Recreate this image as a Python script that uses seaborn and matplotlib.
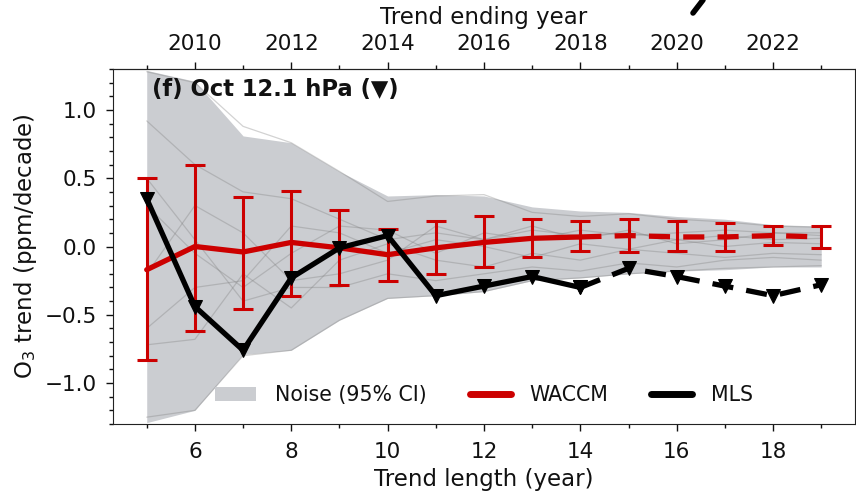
import numpy as np
import matplotlib
matplotlib.use("Agg")
import matplotlib.pyplot as plt
import seaborn as sns
from matplotlib.patches import Patch
from matplotlib.lines import Line2D
from matplotlib.ticker import MultipleLocator, FixedLocator

# data
trend_length = [5, 6, 7, 8, 9, 10, 11, 12, 13, 14, 15, 16, 17, 18, 19]

mls = [0.35, -0.44, -0.76, -0.23, -0.01, 0.08, -0.36, -0.29, -0.22, -0.30,
       -0.16, -0.22, -0.29, -0.36, -0.28]

waccm = [-0.17, 0.00, -0.04, 0.03, -0.01, -0.06, -0.01, 0.03, 0.06, 0.07,
         0.08, 0.07, 0.07, 0.08, 0.07]
waccm_hi = [0.50, 0.60, 0.365, 0.41, 0.27, 0.13, 0.19, 0.22, 0.20, 0.19,
            0.20, 0.19, 0.17, 0.15, 0.15]
waccm_lo = [-0.83, -0.62, -0.455, -0.365, -0.28, -0.255, -0.20, -0.15, -0.08, -0.03,
            -0.04, -0.03, -0.03, 0.01, -0.01]

noise_hi = [1.29, 1.21, 0.81, 0.76, 0.55, 0.37, 0.38, 0.37, 0.29, 0.26,
            0.25, 0.22, 0.20, 0.16, 0.15]
noise_lo = [-1.29, -1.20, -0.79, -0.76, -0.54, -0.38, -0.36, -0.33, -0.25, -0.23,
            -0.20, -0.18, -0.17, -0.15, -0.15]

# some individual noise realisations (thin grey lines)
real_1 = [0.92, 0.60, 0.40, 0.35, 0.20, 0.05, 0.10, 0.05, 0.12, 0.08, 0.10, 0.05, 0.08, 0.05, 0.06]
real_2 = [1.28, 1.20, 0.88, 0.76, 0.55, 0.33, 0.37, 0.38, 0.25, 0.22, 0.24, 0.20, 0.18, 0.15, 0.14]
real_3 = [-0.60, -0.30, -0.25, 0.15, 0.10, -0.05, 0.05, 0.00, -0.08, 0.02, -0.02, 0.05, 0.00, 0.03, 0.02]
real_4 = [-0.72, -0.68, -0.20, -0.45, -0.10, 0.02, -0.10, -0.15, -0.05, -0.10, -0.02, -0.05, -0.08, -0.05, -0.06]
real_5 = [0.30, -0.05, -0.30, -0.05, 0.15, 0.12, -0.05, 0.10, 0.05, 0.12, 0.08, 0.10, 0.12, 0.10, 0.10]
real_6 = [-0.20, 0.30, 0.10, -0.25, -0.20, -0.10, 0.15, 0.05, 0.15, 0.05, 0.12, 0.02, 0.05, 0.10, 0.08]
real_7 = [-1.25, -1.20, -0.80, -0.76, -0.54, -0.38, -0.36, -0.33, -0.25, -0.23, -0.20, -0.18, -0.16, -0.15, -0.14]
real_8 = [0.50, 0.05, -0.40, -0.30, -0.30, -0.20, -0.25, -0.20, -0.15, -0.18, -0.12, -0.15, -0.10, -0.08, -0.10]
realisations = [real_1, real_2, real_3, real_4, real_5, real_6, real_7, real_8]

top_years = [2010, 2012, 2014, 2016, 2018, 2020, 2022]
top_years_minor = [2009, 2011, 2013, 2015, 2017, 2019, 2021, 2023]

solid_end = 14   # MLS record ends, dashed after this
year_offset = 2004

RED = "#cc0000"
BAND = "#cbcdd1"
INK = "#111111"

sns.set_style("ticks")
plt.rcParams['font.family'] = ['DejaVu Sans']
plt.rcParams.update({"text.color": INK, "axes.labelcolor": INK,
                     "xtick.color": INK, "ytick.color": INK,
                     "axes.edgecolor": "#222222"})

fig = plt.figure(figsize=(8.56, 4.94), dpi=100)
ax = fig.add_axes([0.132, 0.1417, 0.8668, 0.7186])

x = np.array(trend_length)
solid = x <= solid_end
dashed = x >= solid_end

# noise band + realisations
ax.fill_between(x, noise_lo, noise_hi, color=BAND, lw=0, zorder=1)
for r in realisations:
    ax.plot(x, r, color="gray", lw=0.9, alpha=0.35, zorder=2)

# WACCM
err = [np.array(waccm) - np.array(waccm_lo), np.array(waccm_hi) - np.array(waccm)]
ax.errorbar(x, waccm, yerr=err, fmt="none", ecolor=RED, elinewidth=2.2,
            capsize=7, capthick=2.2, zorder=4)
sns.lineplot(x=x[solid], y=np.array(waccm)[solid], color=RED, lw=3.8, ax=ax, zorder=5)
sns.lineplot(x=x[dashed], y=np.array(waccm)[dashed], color=RED, lw=3.8,
             linestyle=(0, (4, 2.5)), ax=ax, zorder=5)

# MLS
sns.lineplot(x=x[solid], y=np.array(mls)[solid], color="black", lw=3.8, marker="v",
             markersize=10, markeredgecolor="black", ax=ax, zorder=6)
sns.lineplot(x=x[dashed], y=np.array(mls)[dashed], color="black", lw=3.8,
             linestyle=(0, (4, 2.5)), marker="v", markersize=10,
             markeredgecolor="black", ax=ax, zorder=6)

ax.set_xlim(4.3, 19.7)
ax.set_ylim(-1.3, 1.3)
ax.xaxis.set_major_locator(MultipleLocator(2))
ax.xaxis.set_minor_locator(MultipleLocator(1))
ax.yaxis.set_major_locator(MultipleLocator(0.5))
ax.yaxis.set_minor_locator(MultipleLocator(0.1))
ax.tick_params(which="major", length=5, width=1, direction="out", labelsize=15.5)
ax.tick_params(which="minor", length=3, width=1, direction="out")
ax.tick_params(axis="x", which="major", pad=8)
ax.tick_params(axis="y", which="major", pad=6.5)
ax.set_yticks([-1.0, -0.5, 0.0, 0.5, 1.0])
ax.set_yticklabels([f"{v:.1f}".replace("-", "\u2212") for v in ax.get_yticks()])
ax.set_xlabel("Trend length (year)", fontsize=16.5, labelpad=4.5)
ax.set_ylabel("O$_3$ trend (ppm/decade)", fontsize=16.5, labelpad=4)

top = ax.secondary_xaxis("top", functions=(lambda v: v + year_offset,
                                           lambda v: v - year_offset))
top.xaxis.set_major_locator(FixedLocator(top_years))
top.xaxis.set_minor_locator(FixedLocator(top_years_minor))
top.tick_params(which="major", length=5, width=1, direction="out", labelsize=15.5, pad=6)
top.tick_params(which="minor", length=3, width=1, direction="out")
top.set_xlabel("Trend ending year", fontsize=16.5, labelpad=7)

ax.text(0.053, 0.975, "(f) Oct 12.1 hPa (\u25BC)", transform=ax.transAxes,
        ha="left", va="top", fontweight="bold", fontsize=16.3)

handles = [Patch(facecolor=BAND, edgecolor="none"),
           Line2D([], [], color=RED, lw=5),
           Line2D([], [], color="black", lw=5)]
ax.legend(handles, ["Noise (95% CI)", "WACCM", "MLS"], loc="center",
          bbox_to_anchor=(0.5, 0.082), ncol=3, frameon=False, fontsize=14.8,
          handlelength=2.0, handletextpad=0.9, columnspacing=2.1)

# stray stroke from the neighbouring panel
fig.add_artist(Line2D([703 / 856, 693 / 856], [1.0, 1 - 13 / 494],
                      color="black", lw=4, transform=fig.transFigure))

fig.savefig("out.png", dpi=100)
